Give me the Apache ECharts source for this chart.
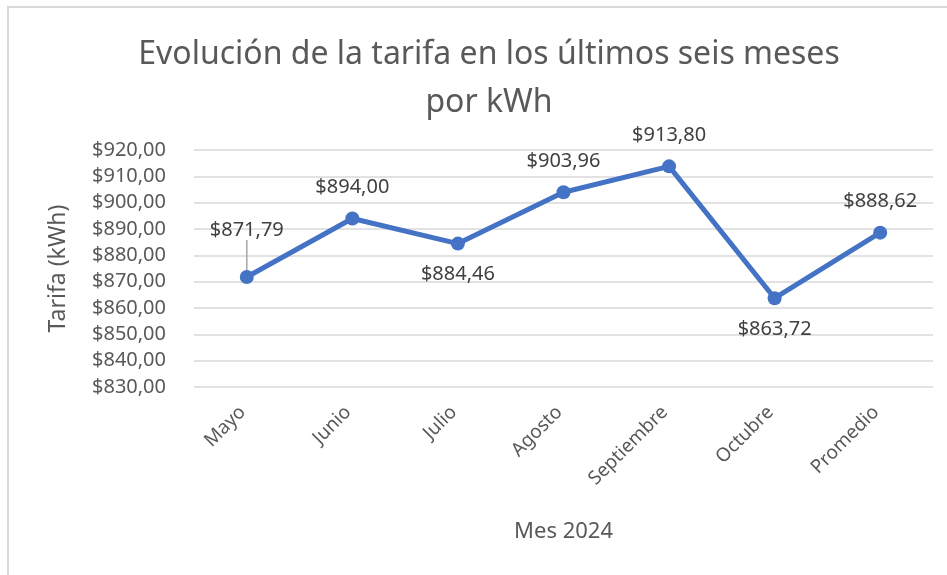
<!DOCTYPE html>
<html>
<head>
<meta charset="utf-8">
<script src="https://cdn.jsdelivr.net/npm/echarts@6/dist/echarts.min.js"></script>
<style>
  html, body { margin: 0; padding: 0; background: #fff; }
  #main { width: 947px; height: 575px; }
</style>
</head>
<body>
<div id="main"></div>
<script>
// datos del gráfico
var meses = ['Mayo', 'Junio', 'Julio', 'Agosto', 'Septiembre', 'Octubre', 'Promedio'];
var tarifas = [871.79, 894.00, 884.46, 903.96, 913.80, 863.72, 888.62];
var posEtiqueta = ['top', 'top', 'bottom', 'top', 'top', 'bottom', 'top'];

var fuente = 'Noto Sans';
var gris = '#595959';

function moneda(v) {
    return '$' + v.toFixed(2).replace('.', ',');
}

var myChart = echarts.init(document.getElementById('main'));

var puntos = tarifas.map(function (v, i) {
    return {
        value: v,
        label: { position: posEtiqueta[i] },
        labelLine: { show: i === 0 }
    };
});

var option = {
    backgroundColor: '#fff',
    animation: false,
    title: {
        text: 'Evolución de la tarifa en los últimos seis meses\npor kWh',
        left: 484,
        textAlign: 'center',
        top: 26,
        textStyle: {
            fontFamily: fuente,
            fontWeight: 'normal',
            fontSize: 32,
            color: gris,
            lineHeight: 48
        }
    },
    grid: {
        left: 194,
        right: 14,
        top: 150,
        bottom: 188
    },
    xAxis: {
        type: 'category',
        data: meses,
        boundaryGap: true,
        axisLine: { show: false },
        axisTick: { show: false },
        axisLabel: {
            rotate: 45,
            fontFamily: fuente,
            fontSize: 19,
            color: gris,
            margin: 18,
            padding: [0, 6, 0, 0]
        },
        name: 'Mes 2024',
        nameLocation: 'middle',
        nameGap: 134,
        nameTextStyle: { fontFamily: fuente, fontSize: 22, color: gris }
    },
    yAxis: {
        type: 'value',
        min: 830,
        max: 920,
        interval: 10,
        axisLine: { show: false },
        axisTick: { show: false },
        splitLine: { lineStyle: { color: '#d9d9d9', width: 1.5 } },
        axisLabel: {
            fontFamily: fuente,
            fontSize: 20,
            color: gris,
            margin: 28,
            formatter: function (v) { return moneda(v); }
        },
        name: 'Tarifa (kWh)',
        nameLocation: 'middle',
        nameGap: 124,
        nameRotate: 90,
        nameTextStyle: { fontFamily: fuente, fontSize: 23, color: gris }
    },
    series: [{
        type: 'line',
        data: puntos,
        symbol: 'circle',
        symbolSize: 14,
        lineStyle: { color: '#4472C4', width: 5 },
        itemStyle: { color: '#4472C4' },
        label: {
            show: true,
            distance: 14,
            fontFamily: fuente,
            fontSize: 20,
            color: '#404040',
            formatter: function (p) { return moneda(p.value); }
        },
        labelLine: { show: false, lineStyle: { color: '#a6a6a6', width: 1.5 } },
        labelLayout: function (p) {
            if (p.dataIndex === 0) {
                return { dy: -16 };
            }
            return {};
        }
    }],
    graphic: [{
        type: 'polyline',
        shape: { points: [[8, 575], [8, 7], [947, 7]] },
        style: { stroke: '#d9d9d9', lineWidth: 2, fill: null },
        silent: true
    }]
};

myChart.setOption(option);
</script>
</body>
</html>
